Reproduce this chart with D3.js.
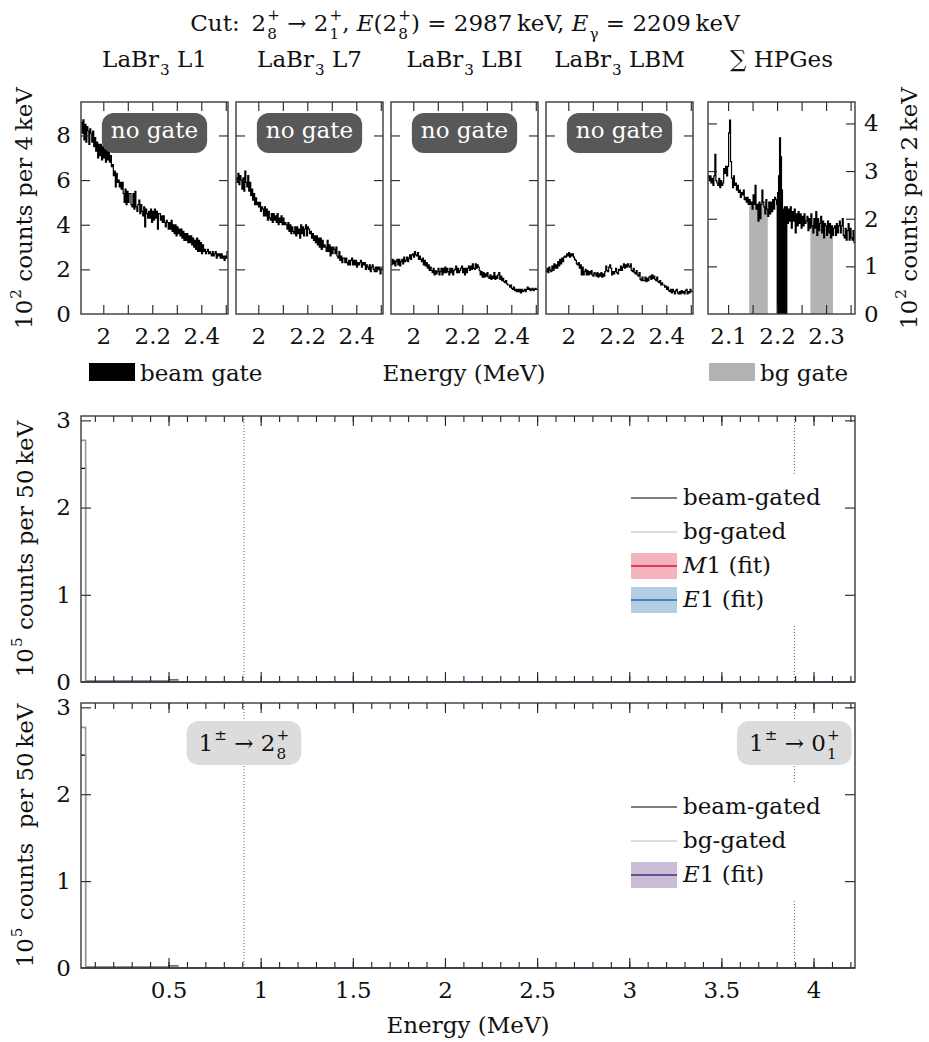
<!DOCTYPE html>
<html>
<head>
<meta charset="utf-8">
<script src="https://cdn.jsdelivr.net/npm/d3@7"></script>
<style>
  body { margin: 0; background: #fff; }
  text { font-family: "DejaVu Serif", serif; white-space: pre; fill: #111; }
</style>
</head>
<body>
<svg id="chart" width="929" height="1042"></svg>
<script>
// ---- data: LaBr3 spectra, 4 keV bins starting at 1909 keV (10^2 counts)
const labrStart = 1.909, labrBin = 0.004;
const l1Counts = [
  8.6, 8.1, 8.7, 7.8, 8.5, 7.7, 8.4, 8.2, 7.6, 8.3,
  8.1, 7.7, 8.2, 7.5, 7.9, 7.3, 7.7, 7.0, 7.6, 7.1,
  7.6, 6.9, 7.5, 7.0, 7.4, 6.8, 7.4, 6.9, 7.3, 6.8,
  7.1, 6.6, 6.7, 6.2, 6.4, 5.7, 6.3, 5.9, 6.0, 5.7,
  5.9, 5.6, 5.9, 5.4, 5.0, 5.6, 4.9, 5.5, 5.0, 5.4,
  5.4, 4.9, 4.8, 5.4, 4.7, 5.5, 4.8, 4.6, 4.9, 5.1,
  4.5, 4.9, 4.6, 4.4, 4.8, 3.9, 4.7, 4.5, 4.3, 4.6,
  4.3, 4.7, 4.1, 4.6, 4.2, 4.7, 4.3, 4.6, 3.8, 4.5,
  4.5, 4.2, 4.4, 4.1, 4.4, 4.1, 3.9, 4.2, 4.1, 3.8,
  4.1, 3.8, 4.2, 3.7, 4.0, 3.6, 4.0, 3.5, 3.9, 3.6,
  3.8, 3.5, 3.8, 3.4, 3.7, 3.3, 3.6, 3.3, 3.6, 3.2,
  3.5, 3.2, 3.5, 3.1, 3.4, 3.0, 3.3, 2.9, 3.4, 2.8,
  3.3, 2.8, 3.2, 2.7, 3.1, 2.8, 2.9, 2.7, 2.8, 2.9,
  2.7, 2.8, 2.7, 2.6, 2.8, 2.6, 2.7, 2.8, 2.5, 2.7,
  2.6, 2.7, 2.5, 2.7, 2.5, 2.6, 2.4, 2.6, 2.5, 2.8
];
const l7Counts = [
  6.1, 5.9, 6.3, 5.8, 6.2, 6.0, 5.6, 6.1, 5.5, 6.4,
  5.9, 5.7, 6.2, 5.5, 5.9, 5.3, 5.6, 5.1, 5.4, 4.9,
  5.2, 4.9, 5.0, 4.8, 5.0, 4.6, 4.8, 4.7, 4.4, 4.8,
  4.4, 4.7, 4.2, 4.6, 4.3, 4.2, 4.5, 4.1, 4.5, 4.2,
  4.4, 4.1, 4.5, 4.0, 4.3, 4.1, 4.4, 4.0, 4.3, 4.0,
  4.1, 4.0, 3.8, 4.1, 3.7, 4.0, 3.6, 3.9, 3.7, 3.6,
  3.9, 3.5, 3.9, 3.6, 3.8, 3.4, 4.0, 3.6, 3.9, 3.5,
  3.8, 4.0, 3.5, 3.9, 3.8, 3.6, 3.7, 3.4, 3.6, 3.3,
  3.5, 3.2, 3.5, 3.1, 3.4, 3.0, 3.4, 2.9, 3.3, 3.0,
  3.1, 3.0, 2.8, 3.3, 2.8, 3.1, 2.6, 3.0, 2.7, 3.0,
  2.9, 2.7, 3.0, 2.6, 2.5, 2.8, 2.4, 2.6, 2.3, 2.5,
  2.5, 2.3, 2.5, 2.3, 2.2, 2.4, 2.2, 2.4, 2.5, 2.2,
  2.4, 2.2, 2.4, 2.1, 2.3, 2.2, 2.3, 2.4, 2.1, 2.3,
  2.2, 2.3, 2.0, 2.2, 2.1, 2.0, 2.2, 1.9, 2.1, 2.2,
  2.0, 1.9, 2.1, 1.9, 2.1, 2.0, 2.1, 1.8, 2.0, 2.1
];
const lbiCounts = [
  2.2, 2.45, 2.25, 2.4, 2.15, 2.35, 2.45, 2.2, 2.45, 2.15,
  2.35, 2.45, 2.25, 2.55, 2.35, 2.4, 2.55, 2.35, 2.5, 2.65,
  2.45, 2.65, 2.7, 2.55, 2.8, 2.65, 2.6, 2.75, 2.45, 2.6,
  2.45, 2.35, 2.5, 2.2, 2.4, 2.15, 2.3, 2.05, 2.2, 1.95,
  2.1, 1.95, 1.85, 2.05, 1.75, 1.95, 1.8, 1.9, 2.05, 1.75,
  1.9, 2.05, 1.75, 2.05, 1.85, 2.1, 1.85, 2.05, 1.9, 1.75,
  2.05, 1.85, 2.05, 1.75, 1.95, 2.0, 2.15, 1.85, 2.05, 1.85,
  1.95, 2.05, 2.15, 1.85, 2.05, 1.75, 2.05, 1.85, 2.05, 2.15,
  1.95, 2.15, 2.0, 2.25, 2.05, 2.0, 2.25, 2.05, 2.2, 2.1,
  1.95, 1.75, 1.9, 1.65, 1.85, 1.65, 1.8, 1.7, 1.85, 1.65,
  1.6, 1.75, 1.55, 1.7, 1.6, 1.85, 1.55, 1.7, 1.6, 1.75,
  1.85, 1.55, 1.7, 1.5, 1.6, 1.45, 1.4, 1.5, 1.35, 1.3,
  1.3, 1.2, 1.3, 1.15, 1.1, 1.2, 1.05, 1.1, 1.0, 1.1,
  1.0, 1.1, 0.95, 1.1, 1.0, 1.05, 1.1, 1.0, 1.1, 1.2,
  1.1, 1.15, 1.05, 1.1, 1.15, 1.05, 1.1, 1.15, 1.1, 1.1
];
const lbmCounts = [
  1.9, 2.05, 1.85, 2.1, 1.95, 1.9, 2.15, 1.95, 2.25, 2.05,
  2.2, 2.05, 2.35, 2.15, 2.45, 2.25, 2.5, 2.35, 2.55, 2.6,
  2.55, 2.7, 2.6, 2.75, 2.55, 2.7, 2.6, 2.7, 2.55, 2.45,
  2.4, 2.25, 2.2, 2.3, 2.05, 2.2, 1.75, 2.1, 1.75, 1.9,
  2.0, 1.75, 1.95, 1.75, 1.9, 1.8, 1.95, 1.75, 1.7, 1.85,
  1.8, 1.7, 1.85, 1.65, 1.8, 1.7, 1.85, 1.65, 1.8, 1.7,
  1.9, 2.15, 1.95, 1.9, 2.1, 2.2, 2.05, 1.75, 1.9, 1.8,
  1.9, 2.05, 1.85, 1.8, 2.0, 1.95, 2.15, 1.95, 2.1, 2.25,
  2.05, 2.2, 2.1, 2.25, 2.15, 2.1, 2.25, 1.95, 1.9, 2.05,
  1.85, 1.8, 1.95, 1.75, 1.7, 1.85, 1.55, 1.5, 1.65, 1.5,
  1.5, 1.65, 1.45, 1.6, 1.5, 1.65, 1.7, 1.55, 1.75, 1.6,
  1.7, 1.55, 1.5, 1.65, 1.45, 1.4, 1.5, 1.3, 1.4, 1.3,
  1.3, 1.2, 1.25, 1.1, 1.2, 1.05, 1.0, 1.1, 0.95, 1.1,
  1.0, 0.9, 1.05, 1.1, 0.95, 0.9, 1.0, 0.9, 1.05, 0.95,
  1.0, 0.9, 1.05, 1.1, 0.9, 1.0, 0.95, 1.1, 1.0, 1.0
];

// ---- summed HPGe spectrum, 2 keV bins starting at 2059 keV (10^2 counts)
const hpgeStart = 2.059, hpgeBin = 0.002;
const hpgeCounts = [
  2.9, 2.8, 2.9, 2.75, 2.85, 2.7, 2.9, 3.35, 2.8, 2.75,
  2.7, 2.85, 2.65, 2.8, 2.7, 2.75, 3.05, 2.95, 3.1, 2.9,
  3.1, 3.8, 4.07, 3.2, 2.85, 2.65, 2.9, 2.7, 2.75, 2.6,
  2.7, 2.55, 2.6, 2.45, 2.55, 2.5, 2.6, 2.4, 2.45, 2.35,
  2.45, 2.3, 2.4, 2.3, 2.35, 2.2, 2.5, 2.3, 2.7, 2.2,
  2.3, 1.95, 2.35, 2.0, 2.3, 2.6, 2.35, 2.25, 2.1, 2.4,
  2.2, 2.05, 2.35, 2.1, 2.35, 2.15, 2.4, 2.2, 2.45, 2.4,
  2.3, 2.55, 2.9, 3.7, 3.3, 2.6, 2.2, 2.05, 2.25, 2.1,
  2.25, 1.9, 2.2, 1.95, 2.25, 1.8, 2.15, 1.95, 2.2, 1.7,
  2.1, 1.85, 2.15, 1.9, 2.1, 1.8, 2.05, 1.85, 2.1, 1.9,
  1.95, 2.05, 1.75, 2.0, 1.8, 2.1, 1.85, 1.7, 2.0, 1.8,
  2.15, 1.65, 2.0, 1.75, 1.9, 2.05, 1.7, 1.95, 1.6, 1.9,
  1.85, 1.65, 1.95, 1.7, 1.9, 1.6, 1.85, 1.65, 1.8, 1.85,
  1.65, 1.9, 1.7, 1.85, 1.95, 1.7, 1.85, 2.0, 1.65, 1.6,
  1.8, 1.55, 1.75, 1.9, 1.55, 1.8, 1.6, 1.55, 1.75, 1.5
];
const beamGate = [2.199, 2.221];
const bgGates = [[2.143, 2.181], [2.268, 2.314]];

// ---- gated sum spectra, 50 keV bins starting at 0 (10^5 counts)
const sumStart = 0, sumBin = 0.05;
const beamGated = [
  2.45, 0.01, 0.01, 0.01, 0.01, 0.01, 0.01, 0.01, 0.01, 0.01,
  0.025, 0, 0, 0, 0, 0, 0, 0, 0, 0,
  0, 0, 0, 0, 0, 0, 0, 0, 0, 0,
  0, 0, 0, 0, 0, 0, 0, 0, 0, 0,
  0, 0, 0, 0, 0, 0, 0, 0, 0, 0,
  0, 0, 0, 0, 0, 0, 0, 0, 0, 0,
  0, 0, 0, 0, 0, 0, 0, 0, 0, 0,
  0, 0, 0, 0, 0, 0, 0, 0, 0, 0,
  0, 0, 0, 0, 0
];
const bgGated = [
  2.77, 0.012, 0.012, 0.012, 0.012, 0.012, 0.012, 0.012, 0.012, 0.012,
  0.02, 0, 0, 0, 0, 0, 0, 0, 0, 0,
  0, 0, 0, 0, 0, 0, 0, 0, 0, 0,
  0, 0, 0, 0, 0, 0, 0, 0, 0, 0,
  0, 0, 0, 0, 0, 0, 0, 0, 0, 0,
  0, 0, 0, 0, 0, 0, 0, 0, 0, 0,
  0, 0, 0, 0, 0, 0, 0, 0, 0, 0,
  0, 0, 0, 0, 0, 0, 0, 0, 0, 0,
  0, 0, 0, 0, 0
];
const fitEnergy = [0.025, 4.225];
const m1Fit = [0, 0];
const e1Fit = [0, 0];
const transitionE = [0.909, 3.896];

// tick labels
const labrXLabels = [2, 2.2, 2.4];
const hpgeXLabels = [2.1, 2.2, 2.3];
const labrYLabels = [0, 2, 4, 6, 8];
const hpgeYLabels = [0, 1, 2, 3, 4];
const sumXLabels = [0.5, 1, 1.5, 2, 2.5, 3, 3.5, 4];
const sumYLabels = [0, 1, 2, 3];

const FS = 23;
const svg = d3.select('#chart');
svg.append('rect').attr('width', 929).attr('height', 1042).attr('fill', '#fff');
const defs = svg.append('defs');

// text with sub/superscripts, laid out piece by piece
function rich(parent, x, y, parts, o) {
  o = o || {};
  const size = o.size || FS;
  const g = parent.append('g');
  let cx = 0;
  parts.forEach(p => {
    if (typeof p === 'string') p = { t: p };
    if (p.t) {
      const t = g.append('text').attr('x', cx).attr('y', 0).attr('font-size', size)
        .attr('font-style', p.it ? 'italic' : null).text(p.t);
      cx += t.node().getComputedTextLength();
    }
    let w = 0;
    if (p.sup) {
      const t = g.append('text').attr('x', cx + 1).attr('y', -size * 0.46).attr('font-size', size * 0.66).text(p.sup);
      w = Math.max(w, t.node().getComputedTextLength() + 1);
    }
    if (p.sub) {
      const t = g.append('text').attr('x', cx + 1).attr('y', size * 0.33).attr('font-size', size * 0.66).text(p.sub);
      w = Math.max(w, t.node().getComputedTextLength() + 1);
    }
    cx += w;
  });
  const anchor = o.anchor || 'middle';
  const off = anchor === 'middle' ? -cx / 2 : anchor === 'end' ? -cx : 0;
  g.attr('transform', `translate(${x},${y})` + (o.rotate ? ` rotate(${o.rotate})` : '') + ` translate(${off},0)`);
  return cx;
}

function histPoints(start, bin, counts) {
  const pts = counts.map((c, k) => [start + k * bin, c]);
  pts.push([start + counts.length * bin, counts[counts.length - 1]]);
  return pts;
}

let clipN = 0;
function clipRect(x0, y0, w, h) {
  const id = 'clip' + (clipN++);
  defs.append('clipPath').attr('id', id).append('rect')
    .attr('x', x0).attr('y', y0).attr('width', w).attr('height', h);
  return `url(#${id})`;
}

function tickAxis(parent, axis, tr, len) {
  const a = parent.append('g').attr('transform', tr).call(axis.tickSize(-len).tickFormat(''));
  a.select('.domain').remove();
  a.selectAll('line').attr('stroke', '#222').attr('stroke-width', 1.1);
  return a;
}

// frame with inside ticks on all four sides
function frame(x, y, xTicks, yTicks, xLen, yLen) {
  const g = svg.append('g');
  const [x0, x1] = x.range(), [yb, yt] = y.range();
  tickAxis(g, d3.axisBottom(x).tickValues(xTicks), `translate(0,${yb})`, xLen);
  tickAxis(g, d3.axisTop(x).tickValues(xTicks), `translate(0,${yt})`, xLen);
  tickAxis(g, d3.axisLeft(y).tickValues(yTicks), `translate(${x0},0)`, yLen);
  tickAxis(g, d3.axisRight(y).tickValues(yTicks), `translate(${x1},0)`, yLen);
  g.append('rect').attr('x', x0).attr('y', yt).attr('width', x1 - x0).attr('height', yb - yt)
    .attr('fill', 'none').attr('stroke', '#3a3a3a').attr('stroke-width', 1.4);
  return g;
}

function labels(axis, tr, pad) {
  const a = svg.append('g').attr('transform', tr)
    .call(axis.tickSize(0).tickPadding(pad).tickFormat(d => String(d)));
  a.select('.domain').remove();
  a.attr('font-size', FS).attr('font-family', null);
  a.selectAll('text').attr('fill', '#111');
}

// ---- title
rich(svg, 465, 31, ['Cut:\u2009 2', { sup: '+', sub: '8' }, ' \u2192 2', { sup: '+', sub: '1' }, ', ',
  { t: 'E', it: true }, '(2', { sup: '+', sub: '8' }, ') = 2987\u2009keV, ', { t: 'E', it: true }, { sub: '\u03b3' },
  ' = 2209\u2009keV']);

// ---- top row: LaBr3 panels
const topY = 102, topH = 212, panelW = 147;
const yLabr = d3.scaleLinear().domain([0, 9.5]).range([topY + topH, topY]);
const labrPanels = [
  { name: 'L1', counts: l1Counts, x: 81 },
  { name: 'L7', counts: l7Counts, x: 236 },
  { name: 'LBI', counts: lbiCounts, x: 391 },
  { name: 'LBM', counts: lbmCounts, x: 546 }
];
labrPanels.forEach((p, i) => {
  const x = d3.scaleLinear().domain([labrStart, labrStart + labrBin * p.counts.length]).range([p.x, p.x + panelW]);
  svg.append('path').datum(histPoints(labrStart, labrBin, p.counts))
    .attr('d', d3.line().x(d => x(d[0])).y(d => yLabr(d[1])).curve(d3.curveStepAfter))
    .attr('fill', 'none').attr('stroke', '#000').attr('stroke-width', 1.2)
    .attr('clip-path', clipRect(p.x, topY, panelW, topH));

  // "no gate" badge
  const badge = svg.append('g');
  const bt = badge.append('text').attr('x', p.x + panelW / 2).attr('y', topY + 36)
    .attr('text-anchor', 'middle').attr('font-size', FS).style('fill', '#fff').text('no gate');
  const tw = bt.node().getComputedTextLength();
  badge.insert('rect', 'text').attr('x', p.x + panelW / 2 - tw / 2 - 9).attr('y', topY + 11)
    .attr('width', tw + 18).attr('height', 40).attr('rx', 12).attr('fill', '#585858');

  frame(x, yLabr, d3.range(2.0, 2.55, 0.1), [2, 4, 6, 8], 9, 9);
  labels(d3.axisBottom(x).tickValues(labrXLabels), `translate(0,${topY + topH})`, 14);
  if (i === 0) labels(d3.axisLeft(yLabr).tickValues(labrYLabels), `translate(${p.x},0)`, 10);
  rich(svg, p.x + panelW / 2, 67, ['LaBr', { sub: '3' }, ' ' + p.name]);
});

// ---- summed HPGe panel with gates
{
  const px = 708;
  const x = d3.scaleLinear().domain([hpgeStart, hpgeStart + hpgeBin * hpgeCounts.length]).range([px, px + panelW]);
  const y = d3.scaleLinear().domain([0, 4.45]).range([topY + topH, topY]);
  const pts = histPoints(hpgeStart, hpgeBin, hpgeCounts);
  const area = d3.area().x(d => x(d[0])).y0(y(0)).y1(d => y(d[1])).curve(d3.curveStepAfter);
  const gates = bgGates.map(gr => ({ r: gr, c: '#b3b3b3' })).concat([{ r: beamGate, c: '#000' }]);
  gates.forEach(gt => {
    svg.append('path').datum(pts).attr('d', area).attr('fill', gt.c)
      .attr('clip-path', clipRect(x(gt.r[0]), topY, x(gt.r[1]) - x(gt.r[0]), topH));
  });
  svg.append('path').datum(pts)
    .attr('d', d3.line().x(d => x(d[0])).y(d => y(d[1])).curve(d3.curveStepAfter))
    .attr('fill', 'none').attr('stroke', '#000').attr('stroke-width', 1.2)
    .attr('clip-path', clipRect(px, topY, panelW, topH));
  frame(x, y, d3.range(2.1, 2.36, 0.05), [1, 2, 3, 4], 9, 9);
  labels(d3.axisBottom(x).tickValues(hpgeXLabels), `translate(0,${topY + topH})`, 14);
  labels(d3.axisRight(y).tickValues(hpgeYLabels), `translate(${px + panelW},0)`, 9);
  rich(svg, px + panelW / 2, 67, ['\u2211 HPGes']);
}

// y titles of the top row
rich(svg, 32, topY + topH / 2, ['10', { sup: '2' }, ' counts per 4\u2009keV'], { rotate: -90 });
rich(svg, 917, topY + topH / 2, ['10', { sup: '2' }, ' counts per 2\u2009keV'], { rotate: -90 });

// gate legend row
svg.append('rect').attr('x', 89).attr('y', 363).attr('width', 46).attr('height', 18).attr('fill', '#000');
rich(svg, 140, 381, ['beam gate'], { anchor: 'start' });
rich(svg, 464, 381, ['Energy (MeV)']);
svg.append('rect').attr('x', 709).attr('y', 363).attr('width', 46).attr('height', 18).attr('fill', '#b3b3b3');
rich(svg, 760, 381, ['bg gate'], { anchor: 'start' });

// ---- lower panels: gated sum spectra
const sumX = d3.scaleLinear().domain([0.025, 4.225]).range([81, 855]);
const lowPanels = [
  { y0: 416, h: 266, fits: [{ v: m1Fit, line: '#e0102a', band: '#f4b4bf', lab: [{ t: 'M', it: true }, '1 (fit)'] },
                           { v: e1Fit, line: '#1f68b0', band: '#b3cde3', lab: [{ t: 'E', it: true }, '1 (fit)'] }],
    ylab: ['10', { sup: '5' }, ' counts per 50\u2009keV'], boxes: false, xlab: false },
  { y0: 703, h: 265, fits: [{ v: e1Fit, line: '#4a2a80', band: '#cbbdd8', lab: [{ t: 'E', it: true }, '1 (fit)'] }],
    ylab: ['10', { sup: '5' }, ' counts  per 50\u2009keV'], boxes: true, xlab: true }
];
const boxLabels = [['1', { sup: '\u00b1' }, ' \u2192 2', { sup: '+', sub: '8' }], ['1', { sup: '\u00b1' }, ' \u2192 0', { sup: '+', sub: '1' }]];

lowPanels.forEach(p => {
  const y = d3.scaleLinear().domain([0, 3.05]).range([p.y0 + p.h, p.y0]);
  const clip = clipRect(81, p.y0, 774, p.h);
  const line = d3.line().x(d => sumX(d[0])).y(d => y(d[1])).curve(d3.curveStepAfter);

  transitionE.forEach(e => {
    svg.append('line').attr('x1', sumX(e)).attr('x2', sumX(e)).attr('y1', p.y0).attr('y2', p.y0 + p.h)
      .attr('stroke', '#666').attr('stroke-width', 1).attr('stroke-dasharray', '1,2');
  });

  svg.append('path').datum(histPoints(sumStart, sumBin, beamGated)).attr('d', line)
    .attr('fill', 'none').attr('stroke', '#000').attr('stroke-width', 1.1).attr('clip-path', clip);
  svg.append('path').datum(histPoints(sumStart, sumBin, bgGated)).attr('d', line)
    .attr('fill', 'none').attr('stroke', '#9a9a9a').attr('stroke-width', 1.6).attr('clip-path', clip);

  p.fits.forEach(f => {
    svg.append('path').datum(fitEnergy.map((e, k) => [e, f.v[k]]))
      .attr('d', d3.line().x(d => sumX(d[0])).y(d => y(d[1])))
      .attr('fill', 'none').attr('stroke', f.line).attr('stroke-width', 1.6);
  });

  // legend
  const rows = [
    { lab: ['beam-gated'], color: '#000', w: 1.2 },
    { lab: ['bg-gated'], color: '#bbb', w: 1.2 }
  ].concat(p.fits.map(f => ({ lab: f.lab, color: f.line, w: 1.6, band: f.band })));
  const lx = 631, ly = p.y0 + 82 + (p.boxes ? 22 : 0), rowH = 34;
  const lg = svg.append('g');
  lg.append('rect').attr('x', lx - 8).attr('y', ly - 24).attr('width', 210)
    .attr('height', (rows.length - 1) * rowH + 49).attr('fill', '#fff');
  rows.forEach((r, k) => {
    const yy = ly + k * rowH;
    if (r.band) lg.append('rect').attr('x', lx).attr('y', yy - 13).attr('width', 46).attr('height', 26).attr('fill', r.band);
    lg.append('line').attr('x1', lx).attr('x2', lx + 46).attr('y1', yy).attr('y2', yy)
      .attr('stroke', r.color).attr('stroke-width', r.w);
    rich(lg, lx + 52, yy + 7, r.lab, { anchor: 'start' });
  });

  if (p.boxes) {
    transitionE.forEach((e, k) => {
      const bg = svg.append('g');
      const w = rich(bg, sumX(e), p.y0 + 48, boxLabels[k]);
      bg.insert('rect', 'g').attr('x', sumX(e) - w / 2 - 12).attr('y', p.y0 + 18)
        .attr('width', w + 24).attr('height', 44).attr('rx', 12).attr('fill', '#dcdcdc');
    });
  }

  const fr = frame(sumX, y, d3.range(0.1, 4.25, 0.1), [1, 2, 3], 6, 10);
  // longer major ticks every 0.5 MeV
  tickAxis(fr, d3.axisBottom(sumX).tickValues(sumXLabels), `translate(0,${p.y0 + p.h})`, 10);
  tickAxis(fr, d3.axisTop(sumX).tickValues(sumXLabels), `translate(0,${p.y0})`, 10);

  labels(d3.axisLeft(y).tickValues(sumYLabels), `translate(81,0)`, 10);
  if (p.xlab) labels(d3.axisBottom(sumX).tickValues(sumXLabels), `translate(0,${p.y0 + p.h})`, 14);
  rich(svg, 33, p.y0 + p.h / 2, p.ylab, { rotate: -90 });
});

rich(svg, 468, 1033, ['Energy (MeV)']);
</script>
</body>
</html>
